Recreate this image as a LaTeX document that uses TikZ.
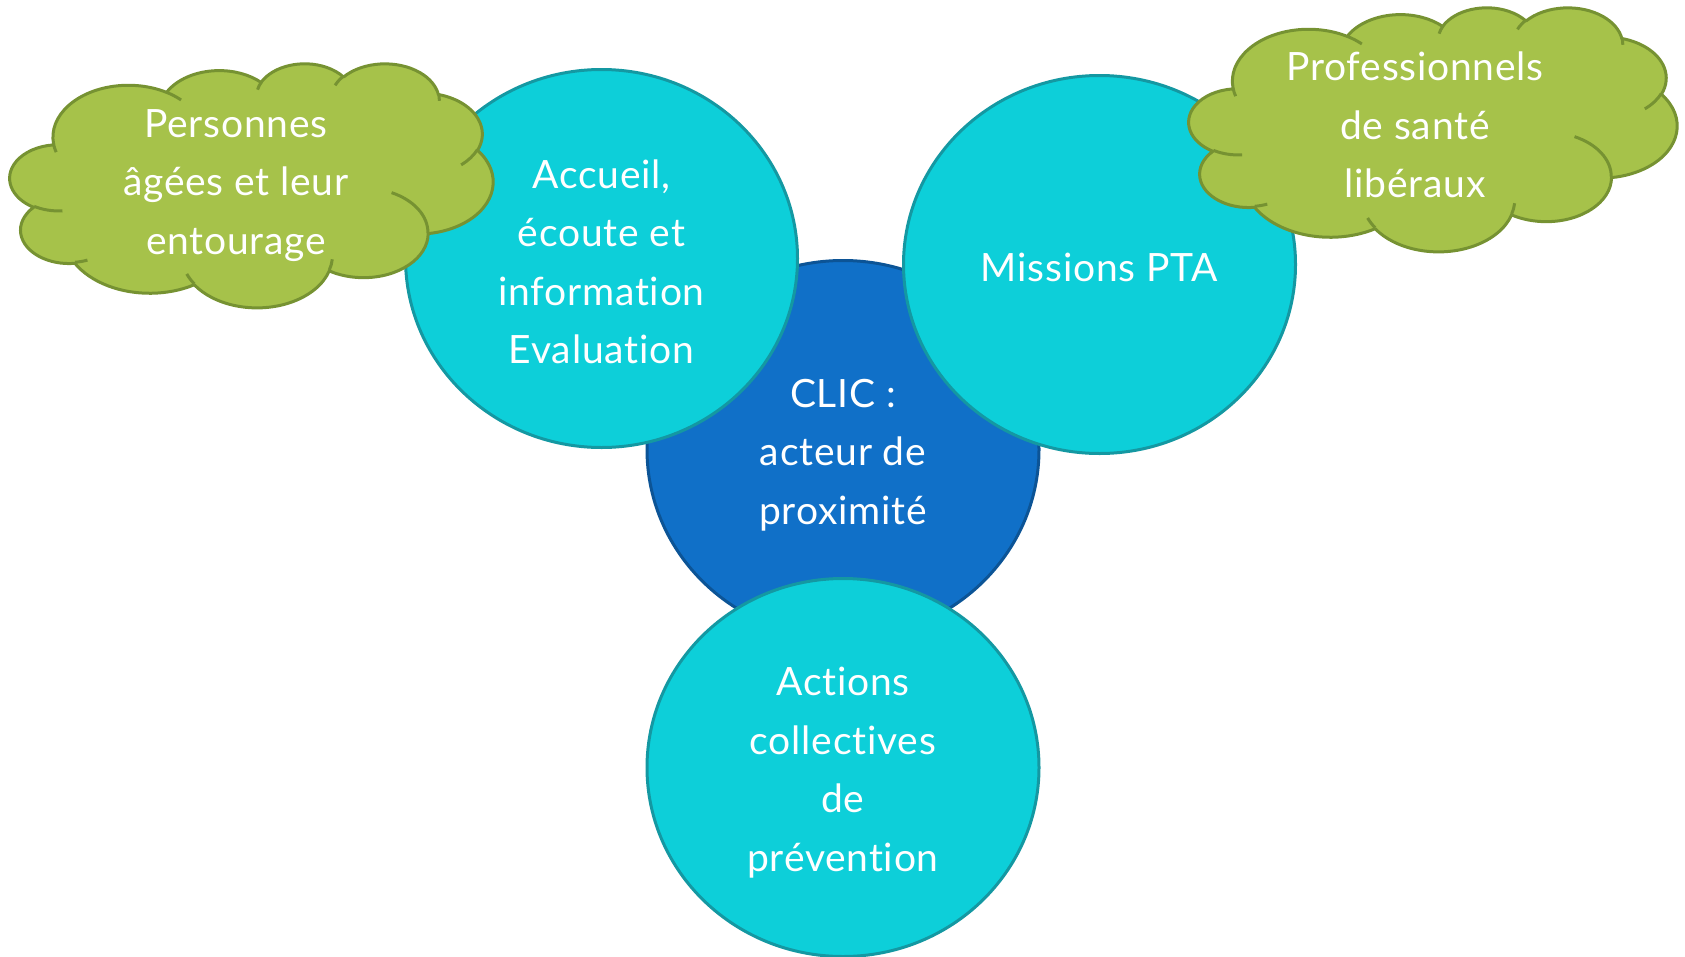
\documentclass[tikz,border=0pt]{standalone}
\usepackage{fontspec}
\setmainfont[LetterSpace=2, Ligatures=NoCommon]{Lato}
\usetikzlibrary{shapes.geometric}
\definecolor{cyanfill}{RGB}{13,207,217}
\definecolor{cyanline}{RGB}{20,152,162}
\definecolor{bluefill}{RGB}{16,112,200}
\definecolor{blueline}{RGB}{12,84,150}
\definecolor{cloudfill}{RGB}{166,194,74}
\definecolor{cloudline}{RGB}{118,146,50}
\newcommand\diagfont{\fontsize{39}{58.5}\selectfont}
\newcommand\ooconv[5]{%
  \pgfmathsetmacro\ooS{atan2((#2)*sin(#4),(#3)*cos(#4))}%
  \pgfmathsetmacro\ooE{atan2((#2)*sin((#4)+(#5)),(#3)*cos((#4)+(#5)))}%
  \pgfmathsetmacro\ooD{\ooE-\ooS}%
  \pgfmathsetmacro\ooD{\ooD-360*round((\ooD-(#5))/360)}%
  \expandafter\xdef\csname oo#1S\endcsname{\ooS}%
  \expandafter\xdef\csname oo#1D\endcsname{\ooD}%
}
\newcommand\cloudshape[1]{%
  \begin{scope}[#1]
    \filldraw[fill=cloudfill, draw=cloudline, line width=3pt, line join=round]
      (39.00,143.70)
      arc[start angle=\ooAS, delta angle=\ooAD, x radius=67.53, y radius=91.90]
      arc[start angle=\ooBS, delta angle=\ooBD, x radius=53.33, y radius=72.67]
      arc[start angle=\ooCS, delta angle=\ooCD, x radius=43.65, y radius=59.45]
      arc[start angle=\ooDS, delta angle=\ooDD, x radius=48.57, y radius=65.95]
      arc[start angle=\ooES, delta angle=\ooED, x radius=53.33, y radius=72.73]
      arc[start angle=\ooFS, delta angle=\ooFD, x radius=67.75, y radius=92.20]
      arc[start angle=\ooGS, delta angle=\ooGD, x radius=57.85, y radius=78.67]
      arc[start angle=\ooHS, delta angle=\ooHD, x radius=67.52, y radius=92.15]
      arc[start angle=\ooIS, delta angle=\ooID, x radius=77.20, y radius=105.43]
      arc[start angle=\ooJS, delta angle=\ooJD, x radius=43.60, y radius=59.18]
      arc[start angle=\ooKS, delta angle=\ooKD, x radius=43.45, y radius=59.45]
      -- cycle;
    \draw[draw=cloudline, line width=3pt, line cap=butt]
      (46.93,261.77) arc[start angle=\ooaS, delta angle=\ooaD, x radius=43.45, y radius=59.45]
      (69.28,348.99) arc[start angle=\oobS, delta angle=\oobD, x radius=43.60, y radius=59.18]
      (164.78,390.90) arc[start angle=\oocS, delta angle=\oocD, x radius=67.52, y radius=92.15]
      (288.27,347.51) arc[start angle=\oodS, delta angle=\oodD, x radius=67.52, y radius=92.15]
      (341.29,229.54) arc[start angle=\ooeS, delta angle=\ooeD, x radius=57.85, y radius=78.67]
      (417.98,153.54) arc[start angle=\oofS, delta angle=\oofD, x radius=53.33, y radius=72.73]
      (383.24,54.26) arc[start angle=\oogS, delta angle=\oogD, x radius=48.57, y radius=65.95]
      (290.78,39.52) arc[start angle=\oohS, delta angle=\oohD, x radius=48.57, y radius=65.95]
      (221.41,47.20) arc[start angle=\ooiS, delta angle=\ooiD, x radius=43.65, y radius=59.45]
      (140.00,51.92) arc[start angle=\oojS, delta angle=\oojD, x radius=67.53, y radius=91.90]
      (41.27,157.89) arc[start angle=\ookS, delta angle=\ookD, x radius=67.53, y radius=91.90];
  \end{scope}}
\begin{document}
\ooconv{A}{67.53}{91.90}{-190.48748}{123.78053}
\ooconv{B}{53.33}{72.67}{-144.10238}{89.94523}
\ooconv{C}{43.65}{59.45}{-145.80792}{99.72302}
\ooconv{D}{48.57}{65.95}{-130.98607}{117.24173}
\ooconv{E}{53.33}{72.73}{-78.70888}{109.02692}
\ooconv{F}{67.75}{92.20}{-46.26725}{130.269}
\ooconv{G}{57.85}{78.67}{0.62502}{114.03333}
\ooconv{H}{67.52}{92.15}{22.4516}{115.17255}
\ooconv{I}{77.20}{105.43}{66.24263}{75.71102}
\ooconv{J}{43.60}{59.18}{-274.94208}{146.73557}
\ooconv{K}{43.45}{59.45}{-246.8285}{152.51885}
\ooconv{a}{43.45}{59.45}{86.742}{26.4295}
\ooconv{b}{43.60}{59.18}{73.61047}{11.44747}
\ooconv{c}{67.52}{92.15}{137.62415}{14.0811}
\ooconv{d}{67.52}{92.15}{6.4533}{15.99835}
\ooconv{e}{57.85}{78.67}{-70.29235}{70.9174}
\ooconv{f}{53.33}{72.73}{30.31803}{27.7515}
\ooconv{g}{48.57}{65.95}{-13.74433}{14.8589}
\ooconv{h}{48.57}{65.95}{-149.18145}{18.19537}
\ooconv{i}{43.65}{59.45}{-163.49427}{17.68635}
\ooconv{j}{67.53}{91.90}{-66.70695}{12.31935}
\ooconv{k}{67.53}{91.90}{157.65435}{11.85817}
\begin{tikzpicture}[x=1pt, y=-1pt,
  bubble/.style={ellipse, minimum width=392pt, minimum height=378pt, inner sep=0pt,
    fill=cyanfill, draw=cyanline, line width=3pt},
  core/.style={bubble, fill=bluefill, draw=blueline},
  label/.style={text=white, align=center, font=\diagfont, inner sep=0pt}]
\useasboundingbox (0,0) rectangle (1685,956);
\node[core] (clic) at (843,449.5) {};
\node[label] (clictext) at (843,455) {CLIC :\\acteur de\\proximité};
\node[bubble] (accueil) at (601.5,258.5) {};
\node[label] (accueiltext) at (601.5,262) {Accueil,\\écoute et\\information\\Evaluation};
\node[bubble] (pta) at (1099.5,264.5) {};
\node[label] (ptatext) at (1099.5,267.5) {Missions PTA};
\node[bubble] (actions) at (843,767.5) {};
\node[label] (actionstext) at (843,772.5) {Actions\\collectives\\de\\prévention};
\cloudshape{shift={(10,63)}, x=1.11806pt, y=-0.56481pt}
\cloudshape{shift={(1189,7)}, x=1.12963pt, y=-0.56481pt}
\node[label] (personnes) at (236,185.5) {Personnes\\âgées et leur\\entourage};
\node[label] (pros) at (1415,125) {Professionnels\\de santé\\libéraux};
\end{tikzpicture}
\end{document}
